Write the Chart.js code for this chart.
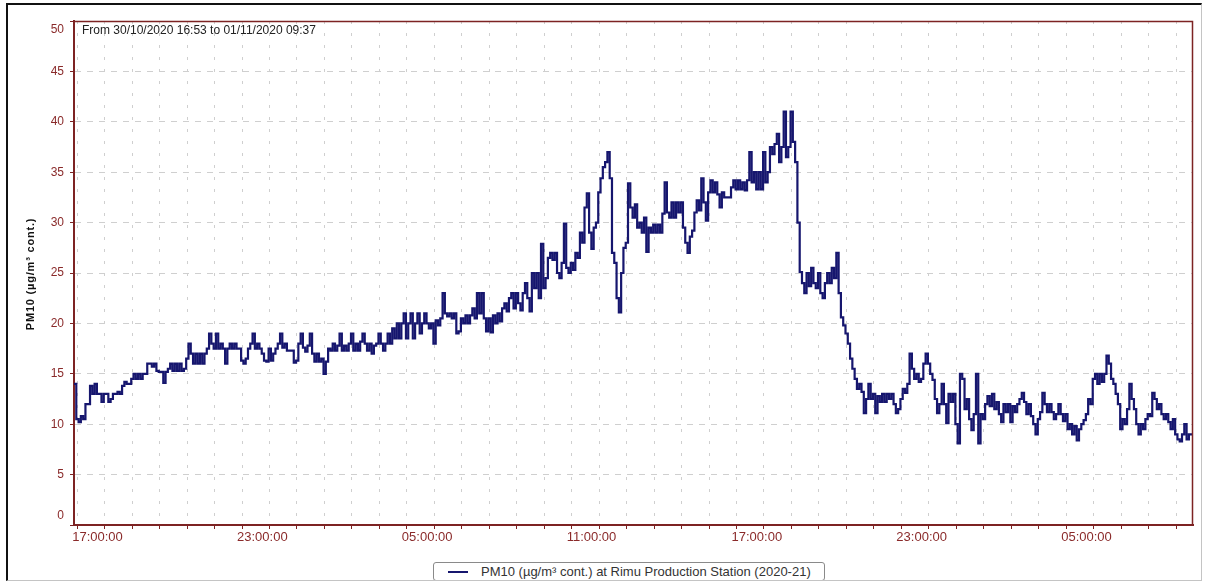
<!DOCTYPE html>
<html>
<head>
<meta charset="utf-8">
<script src="https://cdn.jsdelivr.net/npm/chart.js@4.4.1/dist/chart.umd.min.js"></script>
<style>
html,body{margin:0;padding:0;background:#fff;}
#wrap{position:relative;width:1206px;height:583px;overflow:hidden;background:#fff;}
#frame{position:absolute;left:6px;top:3px;width:1196px;height:578px;box-sizing:border-box;border-top:2px solid #111;border-left:2px solid #111;border-right:1px solid #c4c4c4;border-bottom:1px solid #c4c4c4;pointer-events:none;}
#c{position:absolute;left:0;top:0;}
#legend{position:absolute;left:433px;top:562px;width:392px;height:19px;box-sizing:border-box;border:1px solid #8a8a8a;border-radius:3px;font:13px "Liberation Sans",Arial,sans-serif;color:#333;display:flex;align-items:center;white-space:nowrap;background:#fff;}
#legend .sw{display:inline-block;width:20px;height:2px;background:#16166e;margin-left:14px;margin-right:13px;}
</style>
</head>
<body>
<div id="wrap">
  <canvas id="c" width="1206" height="550"></canvas>
  <div id="legend"><span class="sw"></span><span id="legtext"></span></div>
  <div id="frame"></div>
</div>
<script>
// ---- data ----
const periodText = 'From 30/10/2020 16:53 to 01/11/2020 09:37';
const seriesName = 'PM10 (µg/m³ cont.) at Rimu Production Station (2020-21)';
const yAxisTitle = 'PM10 (µg/m³ cont.)';
const startHour = -7 / 60;      // 16:53, hours relative to 30/10 17:00
const endHour = 40 + 37 / 60;   // 01/11 09:37
const stepMinutes = 5;
const xTickHours = [0, 6, 12, 18, 24, 30, 36];
const xTickLabels = ['17:00:00', '23:00:00', '05:00:00', '11:00:00', '17:00:00', '23:00:00', '05:00:00'];
const yTicks = [0, 5, 10, 15, 20, 25, 30, 35, 40, 45, 50];
// one row per hour, 5-minute readings starting 16:53
const pm10 = [
  14, 10.5, 10.2, 10.8, 10.5, 12, 12, 13.8, 13, 14, 13, 13,
  12.2, 13, 13, 12.2, 12.5, 13, 13, 13.2, 13, 13.8, 14.2, 14,
  14, 14.5, 15, 14.5, 15, 14.5, 15, 15, 16, 16, 15.7, 16,
  15.3, 15.2, 15.2, 14.1, 15.2, 15.5, 16, 15.3, 16, 15.3, 16, 15.3,
  15.5, 16.5, 18, 17, 16, 17, 16, 17, 16, 17, 17.5, 19,
  18, 17.5, 19, 17.5, 18, 17.5, 16, 17.5, 18, 17.5, 18, 17.5,
  17.5, 16.3, 16, 16.5, 17.5, 18, 19, 17.5, 18, 17.5, 17, 16.3,
  16.2, 17.5, 16.3, 17, 17.5, 18, 19, 17.6, 18, 17.3, 17.3, 17.3,
  16.1, 16.3, 18, 19, 17.6, 17.2, 17.8, 19, 17, 16.2, 17, 16.2,
  16.5, 15, 16.2, 17.5, 17.3, 18, 17.3, 17.8, 19, 17.3, 17.8, 17.3,
  18, 19, 17.3, 18, 17.3, 18.2, 19, 18, 17.3, 18, 17, 17.8,
  18, 19, 18, 17.3, 18, 19, 18, 19.5, 18.5, 20, 18.5, 20,
  21, 18.5, 20, 21, 18.5, 20, 21, 19, 20, 21, 20, 19.5,
  20, 18, 20.3, 19.8, 20.5, 23, 21, 20.7, 21, 20.5, 21, 19,
  19.2, 20.5, 20, 20.8, 20, 20.8, 21.5, 20.5, 23, 21, 23, 20.5,
  19.2, 20.5, 19.1, 20.8, 20, 21, 20.2, 21.5, 22, 21.2, 22.5, 23,
  21.5, 23, 22, 21.3, 23, 24, 22.5, 21.2, 25, 23.5, 25, 22.5,
  27.9, 23.5, 24.5, 26.5, 27, 26.3, 27, 25, 24.5, 26, 29.9, 25.5,
  25, 26, 25.3, 27, 26.5, 29, 28, 31.5, 32.9, 29, 27.4, 29.5,
  30, 33, 34.4, 35.5, 36, 37, 34.4, 27, 26, 22.5, 21.1, 25,
  27.5, 28, 33.9, 31.5, 30.5, 31.8, 29.5, 30, 29, 30.5, 27.1, 29.5,
  29, 29.8, 29, 29.8, 29, 30.9, 34, 31, 30.5, 32, 30.5, 32,
  31, 32, 29.5, 28, 27, 28.6, 29.2, 31, 32.2, 31.2, 34.4, 32,
  30.2, 33, 34.2, 33, 34, 32.8, 31.5, 33, 32.5, 32.5, 32.5, 33.5,
  34.2, 33.3, 34.2, 33.3, 34, 33.2, 34.2, 37, 34, 35, 33.3, 35,
  33.3, 37, 34, 35, 37.5, 36.8, 37.8, 38.8, 36, 37.5, 41, 36.5,
  37.5, 41, 38, 36, 30, 25.1, 24, 23, 25, 23.7, 25.5, 24,
  23.5, 25, 23, 22.5, 24, 25, 24, 25.5, 24.5, 27, 23, 20.6,
  19.8, 19, 18, 16.5, 15.5, 14.5, 13.5, 14, 13.2, 11.1, 12.5, 14,
  12.5, 13, 11.1, 12.8, 12.2, 13, 12.2, 13, 12.5, 13, 12, 11.1,
  11.5, 12.5, 13.5, 13.1, 14, 17, 15.5, 14.5, 15, 14.2, 14.5, 16,
  17, 16, 15, 14.4, 12.5, 11.1, 12, 14, 12, 10.1, 13, 12.2,
  13, 10, 8.1, 15, 14.5, 11.5, 12.5, 10.5, 9.4, 11, 15, 8.1,
  11, 10.5, 12, 12.8, 11.8, 13, 11.5, 12.2, 11, 10.2, 12, 11.2,
  12, 10.2, 11.8, 11.2, 12, 12.5, 13.1, 12.2, 11, 12, 10.8, 10,
  9, 10.5, 11.2, 13.1, 12, 11.2, 12, 11.2, 10.5, 11, 12, 11,
  10.3, 11, 9.5, 10, 9, 9.8, 8.4, 9.5, 10, 10.4, 11, 12.5,
  12, 14.5, 15, 14, 15, 14.2, 15, 16.8, 16, 14.5, 14, 13,
  12, 9.5, 10.5, 10, 11.5, 14, 12.5, 11.5, 10, 9, 10, 9.5,
  10.5, 11, 10.8, 13.1, 12.5, 11.5, 12, 11, 10.5, 11, 10.2, 9.5,
  10.5, 9, 8.5, 8.3, 9, 10, 8.5, 9, 9, 9
];

// ---- styles ----
const MAROON = '#7d2323';
const LABEL = '#8a2a2a';
const GRID = '#cfcfcf';
const LINE = '#16166e';

document.getElementById('legtext').textContent = seriesName;

const points = pm10.map((v, i) => ({ x: startHour + i * stepMinutes / 60, y: v }));

const decor = {
  id: 'decor',
  afterDraw(chart) {
    const { ctx, chartArea: a, scales } = chart;
    ctx.save();
    ctx.strokeStyle = MAROON;
    ctx.lineWidth = 1.5;
    ctx.beginPath();
    ctx.moveTo(a.left, a.top + 0.5);
    ctx.lineTo(a.right - 0.5, a.top + 0.5);
    ctx.lineTo(a.right - 0.5, a.bottom);
    ctx.stroke();
    ctx.fillStyle = LABEL;
    ctx.font = '12px "Liberation Sans", Arial, sans-serif';
    ctx.textAlign = 'right';
    ctx.textBaseline = 'middle';
    yTicks.forEach(v => {
      let y = scales.y.getPixelForValue(v);
      if (v === yTicks[yTicks.length - 1]) y += 9;
      if (v === yTicks[0]) y -= 9;
      ctx.fillText(String(v), 64, y);
    });
    ctx.fillStyle = '#222';
    ctx.textAlign = 'left';
    ctx.font = '12px "Liberation Sans", Arial, sans-serif';
    ctx.fillText(periodText, a.left + 8, a.top + 10);
    ctx.translate(31, (a.top + a.bottom) / 2 + 1);
    ctx.rotate(-Math.PI / 2);
    ctx.textAlign = 'center';
    ctx.font = 'bold 11px "Liberation Sans", Arial, sans-serif';
    try { ctx.letterSpacing = '0.8px'; } catch (e) {}
    ctx.fillStyle = '#111';
    ctx.fillText(yAxisTitle, 0, 0);
    ctx.restore();
  }
};

new Chart(document.getElementById('c'), {
  type: 'line',
  data: {
    datasets: [{
      label: seriesName,
      data: points,
      borderColor: LINE,
      borderWidth: 2.2,
      pointRadius: 0,
      stepped: 'before',
      fill: false
    }]
  },
  options: {
    responsive: false,
    animation: false,
    events: [],
    layout: { padding: { left: 8, top: 21, right: 13, bottom: 0 } },
    plugins: { legend: { display: false }, tooltip: { enabled: false } },
    scales: {
      x: {
        type: 'linear',
        min: startHour,
        max: endHour,
        afterBuildTicks(scale) {
          const t = [];
          for (let h = 0; h <= 40; h++) t.push({ value: h });
          scale.ticks = t;
        },
        afterFit(scale) { scale.height = 25; },
        ticks: {
          autoSkip: false,
          maxRotation: 0,
          minRotation: 0,
          align: 'start',
          labelOffset: -5,
          padding: 1,
          color: LABEL,
          font: { family: '"Liberation Sans", Arial, sans-serif', size: 13 },
          callback(value) {
            const k = xTickHours.indexOf(value);
            return k >= 0 ? xTickLabels[k] : '';
          }
        },
        grid: { color: GRID, lineWidth: 1, drawTicks: true, tickLength: 4, tickColor: MAROON, tickWidth: 1 },
        border: { color: MAROON, width: 2, dash: [3, 9] }
      },
      y: {
        type: 'linear',
        min: 0,
        max: 50,
        afterBuildTicks(scale) { scale.ticks = yTicks.map(v => ({ value: v })); },
        afterFit(scale) { scale.width = 66; },
        ticks: { display: false },
        grid: { color: GRID, lineWidth: 1, drawTicks: true, tickLength: 4, tickColor: MAROON, tickWidth: 1 },
        border: { color: MAROON, width: 2, dash: [6, 6] }
      }
    }
  },
  plugins: [decor]
});
</script>
</body>
</html>
